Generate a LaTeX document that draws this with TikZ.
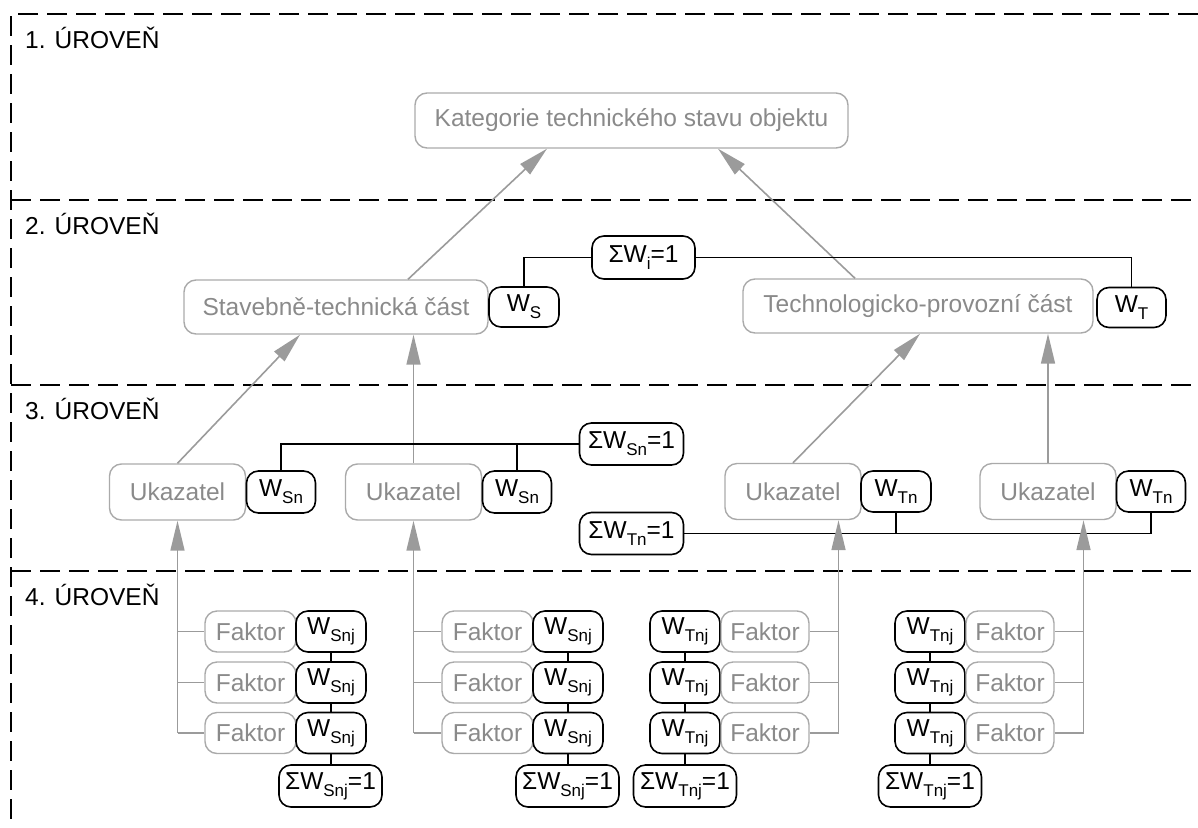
\documentclass[tikz,border=0pt]{standalone}
\usepackage{fontspec}
\setmainfont{Liberation Sans}
\usetikzlibrary{arrows.meta,calc}
\definecolor{bgray}{RGB}{170,170,170}
\definecolor{lgray}{RGB}{155,155,155}
\definecolor{tgray}{RGB}{138,138,138}
\newcommand{\sbs}[1]{\raisebox{-7pt}{\fontsize{17}{17}\selectfont #1}}
\begin{document}
\begin{tikzpicture}[x=1pt,y=-1pt,
  font=\fontsize{24.5}{28}\selectfont,
  gbox/.style={draw=bgray,line width=1.4pt,rounded corners=12pt,text=tgray,inner sep=0pt},
  bbox/.style={draw=black,line width=1.6pt,rounded corners=12pt,text=black,inner sep=0pt},
  dashline/.style={draw=black,line width=1.8pt,dash pattern=on 20pt off 9pt},
  bline/.style={draw=black,line width=1.8pt},
  gline/.style={draw=lgray,line width=1.6pt},
  garrow/.style={draw=lgray,line width=1.6pt,-{Triangle[length=30pt,width=14pt,fill=lgray]}},
  lvl/.style={anchor=base west,inner sep=0pt,text=black}
]
\useasboundingbox (0,0) rectangle (1198,827);
% level frame
\draw[dashline] (1198,14) -- (11,14) -- (11,827);
\draw[dashline] (11,200) -- (1198,200);
\draw[dashline] (11,385) -- (1198,385);
\draw[dashline] (11,571) -- (1198,571);
\node[lvl] (l1) at (25,48) {1. ÚROVEŇ};
\node[lvl] (l2) at (25,234) {2. ÚROVEŇ};
\node[lvl] (l3) at (25,419) {3. ÚROVEŇ};
\node[lvl] (l4) at (25,605) {4. ÚROVEŇ};

% level 1
\node[gbox,minimum width=433pt,minimum height=55pt] (kat) at (631.5,120.5) {Kategorie technického stavu objektu};

% level 2
\node[gbox,minimum width=304pt,minimum height=54pt] (stav) at (336,307) {Stavebně-technická část};
\node[bbox,minimum width=70pt,minimum height=40pt] (ws) at (524,307) {W\sbs{S}};
\node[bbox,minimum width=103pt,minimum height=43pt] (sumi) at (643.5,257.5) {ΣW\sbs{i}=1};
\node[gbox,minimum width=350pt,minimum height=54pt] (tech) at (918,306) {Technologicko-provozní část};
\node[bbox,minimum width=69pt,minimum height=40pt] (wt) at (1131.5,307.5) {W\sbs{T}};

% level 3
\node[gbox,minimum width=136pt,minimum height=56pt] (u1) at (177.5,492) {Ukazatel};
\node[bbox,minimum width=69pt,minimum height=42pt] (wsn1) at (281,492) {W\sbs{Sn}};
\node[gbox,minimum width=136pt,minimum height=56pt] (u2) at (413.5,492) {Ukazatel};
\node[bbox,minimum width=69pt,minimum height=42pt] (wsn2) at (517,492) {W\sbs{Sn}};
\node[bbox,minimum width=104pt,minimum height=42pt] (sumsn) at (631.5,444) {ΣW\sbs{Sn}=1};
\node[bbox,minimum width=104pt,minimum height=42pt] (sumtn) at (631.5,533.5) {ΣW\sbs{Tn}=1};
\node[gbox,minimum width=136pt,minimum height=56pt] (u3) at (793,491.5) {Ukazatel};
\node[bbox,minimum width=70pt,minimum height=41pt] (wtn3) at (896,491.5) {W\sbs{Tn}};
\node[gbox,minimum width=136pt,minimum height=56pt] (u4) at (1048,491.5) {Ukazatel};
\node[bbox,minimum width=69pt,minimum height=41pt] (wtn4) at (1151,491.5) {W\sbs{Tn}};

% level 4 - group 1
\node[gbox,minimum width=91pt,minimum height=41pt] (f11) at (250.5,631.5) {Faktor};
\node[gbox,minimum width=91pt,minimum height=41pt] (f12) at (250.5,682.5) {Faktor};
\node[gbox,minimum width=91pt,minimum height=41pt] (f13) at (250.5,733) {Faktor};
\node[bbox,minimum width=70pt,minimum height=41pt] (w11) at (331,631.5) {W\sbs{Snj}};
\node[bbox,minimum width=70pt,minimum height=41pt] (w12) at (331,682.5) {W\sbs{Snj}};
\node[bbox,minimum width=70pt,minimum height=41pt] (w13) at (331,733) {W\sbs{Snj}};
\node[bbox,minimum width=103pt,minimum height=42pt] (s1) at (330.5,786) {ΣW\sbs{Snj}=1};
% group 2
\node[gbox,minimum width=91pt,minimum height=41pt] (f21) at (487.5,631.5) {Faktor};
\node[gbox,minimum width=91pt,minimum height=41pt] (f22) at (487.5,682.5) {Faktor};
\node[gbox,minimum width=91pt,minimum height=41pt] (f23) at (487.5,733) {Faktor};
\node[bbox,minimum width=70pt,minimum height=41pt] (w21) at (568,631.5) {W\sbs{Snj}};
\node[bbox,minimum width=70pt,minimum height=41pt] (w22) at (568,682.5) {W\sbs{Snj}};
\node[bbox,minimum width=70pt,minimum height=41pt] (w23) at (568,733) {W\sbs{Snj}};
\node[bbox,minimum width=103pt,minimum height=42pt] (s2) at (567.5,786) {ΣW\sbs{Snj}=1};
% group 3
\node[bbox,minimum width=70pt,minimum height=41pt] (w31) at (685,631.5) {W\sbs{Tnj}};
\node[bbox,minimum width=70pt,minimum height=41pt] (w32) at (685,682.5) {W\sbs{Tnj}};
\node[bbox,minimum width=70pt,minimum height=41pt] (w33) at (685,733) {W\sbs{Tnj}};
\node[gbox,minimum width=88pt,minimum height=41pt] (f31) at (765,631.5) {Faktor};
\node[gbox,minimum width=88pt,minimum height=41pt] (f32) at (765,682.5) {Faktor};
\node[gbox,minimum width=88pt,minimum height=41pt] (f33) at (765,733) {Faktor};
\node[bbox,minimum width=103pt,minimum height=42pt] (s3) at (685,786) {ΣW\sbs{Tnj}=1};
% group 4
\node[bbox,minimum width=70pt,minimum height=41pt] (w41) at (930,631.5) {W\sbs{Tnj}};
\node[bbox,minimum width=70pt,minimum height=41pt] (w42) at (930,682.5) {W\sbs{Tnj}};
\node[bbox,minimum width=70pt,minimum height=41pt] (w43) at (930,733) {W\sbs{Tnj}};
\node[gbox,minimum width=88pt,minimum height=41pt] (f41) at (1010,631.5) {Faktor};
\node[gbox,minimum width=88pt,minimum height=41pt] (f42) at (1010,682.5) {Faktor};
\node[gbox,minimum width=88pt,minimum height=41pt] (f43) at (1010,733) {Faktor};
\node[bbox,minimum width=103pt,minimum height=42pt] (s4) at (930,786) {ΣW\sbs{Tnj}=1};

% arrows level 2 -> 1
\draw[garrow] ([xshift=72pt]stav.north) -- ([xshift=-84.5pt]kat.south);
\draw[garrow] ([xshift=-63pt]tech.north) -- ([xshift=86.5pt]kat.south);
% weights level 2
\draw[bline] (ws.north) |- (sumi.west);
\draw[bline] (sumi.east) -| (wt.north);

% arrows level 3 -> 2
\draw[garrow] (u1.north) -- ([xshift=-36pt]stav.south);
\draw[garrow] (u2.north) -- (u2.north |- stav.south);
\draw[garrow] (u3.north) -- ([xshift=2pt]tech.south);
\draw[garrow] (u4.north) -- (u4.north |- tech.south);
% weights level 3
\draw[bline] (wsn1.north) |- (sumsn.west);
\draw[bline] (wsn2.north) -- (wsn2.north |- sumsn.west);
\draw[bline] (sumtn.east) -| (wtn4.south);
\draw[bline] (wtn3.south) -- (wtn3.south |- sumtn.east);

% level 4 -> 3
\coordinate (v1) at (u1.south);
\coordinate (v2) at (u2.south);
\coordinate (v3) at ([xshift=45.5pt]u3.south);
\coordinate (v4) at ([xshift=35.5pt]u4.south);
\draw[garrow] (v1 |- f13.west) -- (v1);
\draw[gline] (v1 |- f11.west) -- (f11.west);
\draw[gline] (v1 |- f12.west) -- (f12.west);
\draw[gline] (v1 |- f13.west) -- (f13.west);
\draw[garrow] (v2 |- f23.west) -- (v2);
\draw[gline] (v2 |- f21.west) -- (f21.west);
\draw[gline] (v2 |- f22.west) -- (f22.west);
\draw[gline] (v2 |- f23.west) -- (f23.west);
\draw[garrow] (v3 |- f33.east) -- (v3);
\draw[gline] (f31.east) -- (v3 |- f31.east);
\draw[gline] (f32.east) -- (v3 |- f32.east);
\draw[gline] (f33.east) -- (v3 |- f33.east);
\draw[garrow] (v4 |- f43.east) -- (v4);
\draw[gline] (f41.east) -- (v4 |- f41.east);
\draw[gline] (f42.east) -- (v4 |- f42.east);
\draw[gline] (f43.east) -- (v4 |- f43.east);
% weight chains level 4
\foreach \g in {1,2,3,4}{
  \draw[bline] (w\g1.south) -- (w\g2.north);
  \draw[bline] (w\g2.south) -- (w\g3.north);
  \draw[bline] (w\g3.south) -- (w\g3.south |- s\g.north);
}
\end{tikzpicture}
\end{document}
